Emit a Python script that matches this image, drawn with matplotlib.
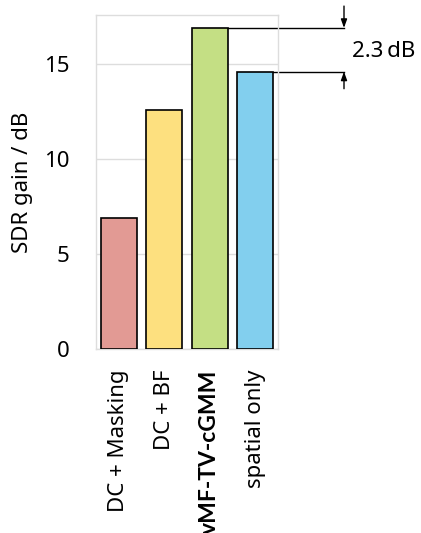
import matplotlib
matplotlib.use("Agg")
import matplotlib.pyplot as plt
from matplotlib import font_manager

methods = ["DC + Masking", "DC + BF", "vMF-TV-cGMM", "spatial only"]
sdr_gain = [6.9, 12.6, 16.9, 14.6]
bar_colors = ["#E29A94", "#FDE07F", "#C4DF84", "#82CFEE"]
yticks = [0, 5, 10, 15]
highlight = "vMF-TV-cGMM"

plt.rcParams["font.family"] = ["Noto Sans", "DejaVu Sans"]
FS = 16


def bold_family():
    # first family in the list that actually ships a bold face
    for fam in ["Noto Sans", "Lato", "Open Sans", "Roboto", "DejaVu Sans"]:
        path = font_manager.findfont(
            font_manager.FontProperties(family=fam, weight="bold"),
            fallback_to_default=False)
        if "bold" in path.lower():
            return fam
    return "DejaVu Sans"


fig = plt.figure(figsize=(4.21, 5.33), dpi=100)
ax = fig.add_axes([96 / 421, 1 - 349 / 533, 182 / 421, 334 / 533])

x = list(range(len(methods)))
ax.bar(x, sdr_gain, width=0.8, color=bar_colors, edgecolor="black",
       linewidth=1.2, zorder=3)

ax.set_xlim(-0.5, 3.5)
ax.set_ylim(0, 17.58)
ax.set_yticks(yticks)
ax.set_yticklabels([str(t) for t in yticks], fontsize=FS)
ax.set_xticks(x)
ax.set_xticklabels(methods, rotation=90, fontsize=FS, va="top")
bfam = bold_family()
for lbl in ax.get_xticklabels():
    if lbl.get_text() == highlight:
        lbl.set_family([bfam, "DejaVu Sans"])
        lbl.set_fontweight("bold")
        lbl.set_fontsize(FS + 0.5)

ax.tick_params(axis="both", length=0)
ax.tick_params(axis="y", pad=19)
ax.tick_params(axis="x", pad=15)
ax.grid(axis="y", color="#DDDDDD", linewidth=1.0, zorder=0)
for s in ax.spines.values():
    s.set_color("#DDDDDD")
    s.set_linewidth(1.0)

ax.set_ylabel("SDR gain / dB", fontsize=FS, labelpad=8)

# Difference between the proposed method and the spatial-only baseline
best = sdr_gain[2]
base = sdr_gain[3]
x_arrow = 3.5 + 66 / 45.5
line_kw = dict(color="black", linewidth=1.0, clip_on=False)
ax.plot([2.4, x_arrow], [best, best], **line_kw)
ax.plot([3.4, x_arrow], [base, base], **line_kw)
arrow_kw = dict(arrowstyle="-|>,head_length=0.5,head_width=0.18",
                color="black", lw=1.0, shrinkA=0, shrinkB=0)
ax.annotate("", xy=(x_arrow, best), xytext=(x_arrow, best + 1.15),
            arrowprops=arrow_kw, annotation_clip=False)
ax.annotate("", xy=(x_arrow, base), xytext=(x_arrow, base - 0.9),
            arrowprops=arrow_kw, annotation_clip=False)
ax.text(x_arrow + 0.17, (best + base) / 2 - 0.1, f"{best - base:.1f}\u2009dB",
        fontsize=FS, va="center", ha="left", clip_on=False)

fig.savefig("out.png", dpi=100)
